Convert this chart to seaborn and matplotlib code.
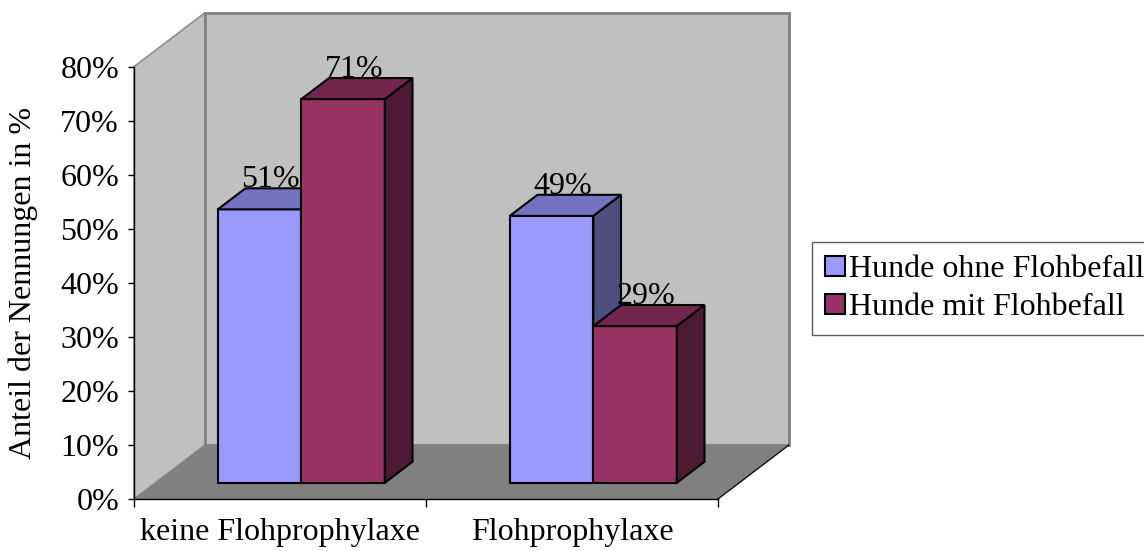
import numpy as np
import pandas as pd
import matplotlib
matplotlib.use("Agg")
import matplotlib.pyplot as plt
import seaborn as sns
from matplotlib.patches import Polygon, Patch
from matplotlib.transforms import Affine2D

# ---- data ----
categories = ["keine Flohprophylaxe", "Flohprophylaxe"]
series = ["Hunde ohne Flohbefall", "Hunde mit Flohbefall"]
ohne_flohbefall = [50.6, 49.4]
mit_flohbefall = [71.0, 29.0]
ytick_values = [0, 10, 20, 30, 40, 50, 60, 70, 80]
ylabel = "Anteil der Nennungen in %"

# ---- style ----
front_cols = ["#9999ff", "#993366"]
top_cols = ["#7373bf", "#73264d"]
side_cols = ["#4d4d80", "#4d1a33"]
wall_col = "#c0c0c0"
floor_col = "#808080"
FS = 23

sns.set_theme(style="white", rc={"text.color": "black", "axes.labelcolor": "black",
                                 "xtick.color": "black", "ytick.color": "black"})
plt.rcParams["font.family"] = ["Liberation Serif", "DejaVu Serif"]

W, H = 1144, 551
fig = plt.figure(figsize=(W / 100, H / 100), dpi=100)
ax_left, ax_bottom, ax_w, ax_h = 134, 499, 584, 432.3
ax = fig.add_axes([ax_left / W, 1 - ax_bottom / H, ax_w / W, ax_h / H])
ax.set_facecolor("none")

df = pd.DataFrame({
    "Kategorie": categories * 2,
    "Serie": [s for s in series for _ in categories],
    "Anteil": ohne_flohbefall + mit_flohbefall,
})

sns.barplot(data=df, x="Kategorie", y="Anteil", hue="Serie", order=categories,
            hue_order=series, palette=front_cols, width=0.572, gap=0,
            edgecolor="black", linewidth=1.5, saturation=1, errorbar=None,
            legend=False, ax=ax)

ax.set_xlim(-0.5, 1.5)
ax.set_ylim(0, 80)

# depth of the 3D box in data units (71 px right, 54 px up)
DX = 71 * 2.0 / ax_w
DY = 54 * 80.0 / ax_h
f0 = 0.30   # depth position of bar front faces
fd = 0.39   # bar depth

# walls and floor
x0w, x1w = -0.5, 1.5
left_wall = Polygon([(x0w, 0), (x0w + DX, DY), (x0w + DX, 80 + DY), (x0w, 80)],
                    closed=True, facecolor=wall_col, edgecolor="#909090", lw=1.2,
                    zorder=0.5, clip_on=False)
back_wall = Polygon([(x0w + DX, DY), (x1w + DX, DY), (x1w + DX, 80 + DY), (x0w + DX, 80 + DY)],
                    closed=True, facecolor=wall_col, edgecolor="#808080", lw=2,
                    zorder=0.6, clip_on=False)
floor = Polygon([(x0w, 0), (x1w, 0), (x1w + DX, DY), (x0w + DX, DY)],
                closed=True, facecolor=floor_col, edgecolor="none",
                zorder=0.7, clip_on=False)
for p in (left_wall, back_wall, floor):
    ax.add_patch(p)
ax.plot([x1w, x1w + DX], [0, DY], color="black", lw=0.9, zorder=0.8, clip_on=False)

# bars: shift front faces in depth, add top and side faces
ox, oy = f0 * DX, f0 * DY
ddx, ddy = fd * DX, fd * DY
for j, cont in enumerate(ax.containers):
    for rect in cont:
        x0 = rect.get_x()
        w = rect.get_width()
        h = rect.get_height()
        rect.set_transform(Affine2D().translate(ox, oy) + ax.transData)
        rect.set_zorder(3 + j)
        rect.set_clip_on(False)
        top = Polygon([(x0 + ox, h + oy), (x0 + w + ox, h + oy),
                       (x0 + w + ox + ddx, h + oy + ddy), (x0 + ox + ddx, h + oy + ddy)],
                      closed=True, facecolor=top_cols[j], edgecolor="black", lw=1.5,
                      zorder=3 + j, clip_on=False)
        side = Polygon([(x0 + w + ox, oy), (x0 + w + ox + ddx, oy + ddy),
                        (x0 + w + ox + ddx, h + oy + ddy), (x0 + w + ox, h + oy)],
                       closed=True, facecolor=side_cols[j], edgecolor="black", lw=1.5,
                       zorder=3 + j, clip_on=False)
        ax.add_patch(side)
        ax.add_patch(top)
        ax.text(x0 + w / 2 + ox + ddx / 2 - 0.01, h + oy + ddy + 0.2, f"{h:.0f}%",
                ha="center", va="baseline", fontsize=FS, zorder=10)

# axes, ticks
for s in ["top", "right"]:
    ax.spines[s].set_visible(False)
for s in ["left", "bottom"]:
    ax.spines[s].set_color("black")
    ax.spines[s].set_linewidth(1.0)
    ax.spines[s].set_zorder(2)

ax.set_yticks(ytick_values)
ax.yaxis.set_major_formatter(lambda v, p: f"{v:.0f}%")
ax.tick_params(axis="y", which="major", left=True, length=4.3, width=1, pad=6.5,
               labelsize=FS, direction="out")

ax.set_xticks([-0.5, 0.5, 1.5])
ax.set_xticklabels(["", "", ""])
ax.set_xticks([0, 1], minor=True)
ax.set_xticklabels(categories, minor=True)
ax.tick_params(axis="x", which="major", bottom=True, length=6, width=1, direction="out")
ax.tick_params(axis="x", which="minor", bottom=False, length=0, pad=14, labelsize=FS)

ax.set_xlabel("")
ax.set_ylabel(ylabel, fontsize=FS)
ax.yaxis.set_label_coords((38 - ax_left) / ax_w, 0.5)

handles = [Patch(facecolor=c, edgecolor="black", linewidth=1.5) for c in front_cols]
leg = fig.legend(handles, series, loc="center left",
                 bbox_to_anchor=(812 / W, 1 - 288.5 / H), fontsize=FS,
                 frameon=True, fancybox=False, edgecolor="#333333",
                 handlelength=0.6, handleheight=0.6, handletextpad=0.15,
                 labelspacing=0.28, borderpad=0.42, borderaxespad=0)
leg.get_frame().set_linewidth(1.0)

fig.savefig("out.png", dpi=100)
